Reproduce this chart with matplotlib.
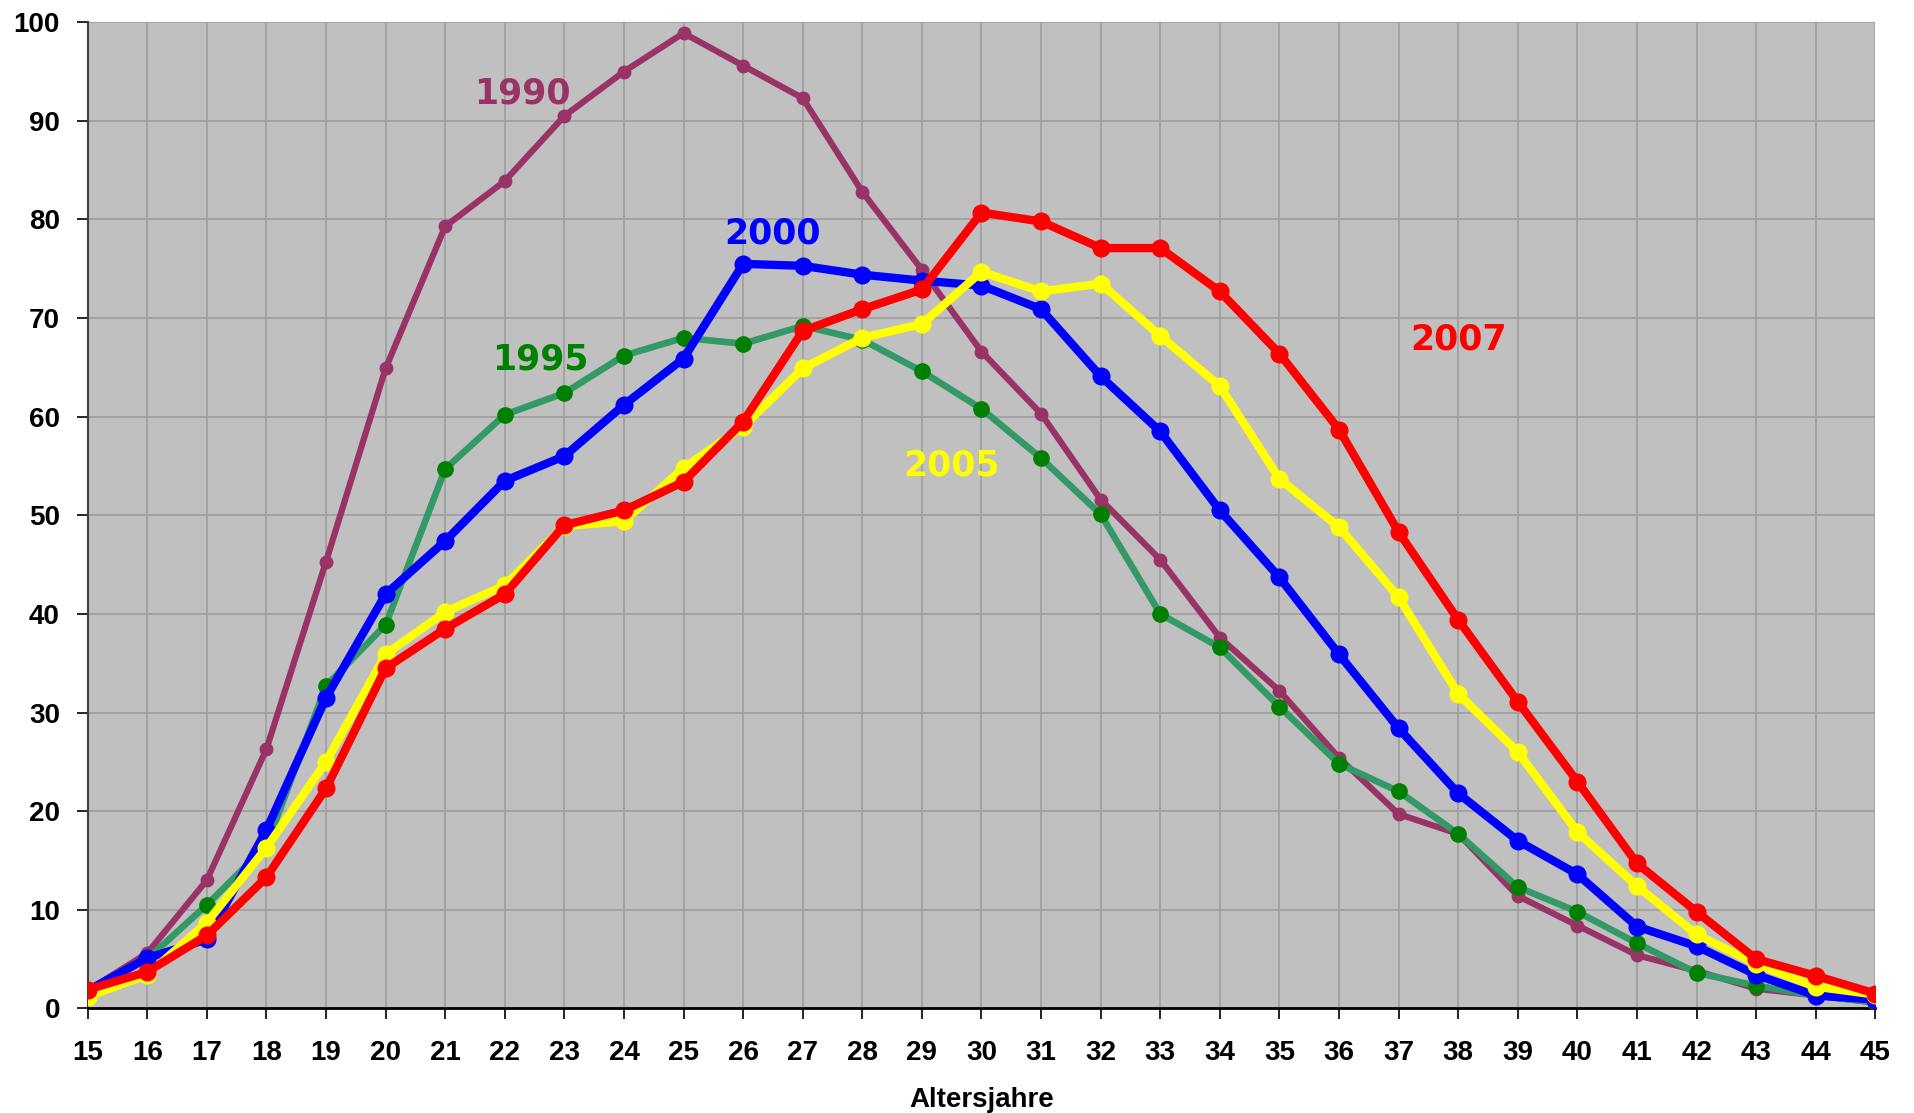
import matplotlib
matplotlib.use("Agg")
import matplotlib.pyplot as plt

ages = list(range(15, 46))

y1990 = [1.8, 5.6, 13.0, 26.3, 45.3, 64.9, 79.3, 83.9, 90.5, 95.0, 98.9, 95.6, 92.3, 82.8, 74.9,
         66.6, 60.3, 51.6, 45.5, 37.6, 32.2, 25.4, 19.7, 17.7, 11.4, 8.4, 5.4, 3.8, 2.0, 1.3, 0.6]
y1995 = [1.8, 5.0, 10.5, 16.5, 32.7, 38.9, 54.7, 60.2, 62.4, 66.2, 68.0, 67.4, 69.2, 67.8, 64.6,
         60.8, 55.8, 50.1, 40.0, 36.6, 30.6, 24.8, 22.0, 17.7, 12.3, 9.8, 6.6, 3.6, 2.3, 1.3, 0.6]
y2000 = [1.8, 5.1, 7.0, 18.1, 31.5, 42.0, 47.4, 53.5, 56.0, 61.2, 65.9, 75.5, 75.3, 74.4, 73.8,
         73.3, 70.9, 64.1, 58.5, 50.5, 43.7, 35.9, 28.4, 21.8, 17.0, 13.6, 8.3, 6.3, 3.4, 1.3, 0.9]
y2005 = [1.2, 3.4, 8.7, 16.3, 25.0, 35.9, 40.2, 42.9, 48.9, 49.4, 54.8, 59.0, 64.9, 68.0, 69.4,
         74.7, 72.7, 73.5, 68.2, 63.1, 53.7, 48.8, 41.7, 31.9, 26.0, 17.9, 12.4, 7.5, 4.5, 2.2, 1.4]
y2007 = [1.9, 3.7, 7.4, 13.3, 22.3, 34.5, 38.5, 42.0, 49.0, 50.5, 53.4, 59.5, 68.7, 70.9, 72.9,
         80.7, 79.8, 77.1, 77.1, 72.7, 66.4, 58.7, 48.3, 39.4, 31.1, 23.0, 14.7, 9.8, 5.0, 3.3, 1.5]

# label text, x, y, colour
labels = [
    ("1990", 22.3, 92.8, "#993366"),
    ("1995", 22.6, 65.8, "#008000"),
    ("2000", 26.5, 78.6, "#0000FF"),
    ("2005", 29.5, 55.1, "#FFFF00"),
    ("2007", 38.0, 67.8, "#FF0000"),
]

plt.rcParams["font.family"] = ["Liberation Sans", "DejaVu Sans"]

fig = plt.figure(figsize=(19.14, 11.13), dpi=100)
ax = fig.add_axes([0.0458, 0.094, 0.934, 0.886])
ax.set_facecolor("#C0C0C0")

ax.plot(ages, y1990, color="#993366", lw=4.5, marker="o", ms=9, zorder=3)
ax.plot(ages, y1995, color="#339966", lw=4.8, marker="o", ms=11,
        markerfacecolor="#008000", markeredgecolor="#008000", zorder=4)
ax.plot(ages, y2000, color="#0000FF", lw=6, marker="o", ms=12, zorder=5)
ax.plot(ages, y2005, color="#FFFF00", lw=6, marker="o", ms=12, zorder=6)
ax.plot(ages, y2007, color="#FF0000", lw=6, marker="o", ms=12, zorder=7)

for txt, x, y, c in labels:
    ax.text(x, y, txt, color=c, fontsize=25, fontweight="bold",
            family=["DejaVu Sans"], ha="center", va="center", zorder=8)

ax.set_xlim(15, 45)
ax.set_ylim(0, 100)
ax.set_xticks(ages)
ax.set_yticks(range(0, 101, 10))
ax.grid(True, color="#A0A0A0", lw=1.3, zorder=0)
ax.set_axisbelow(True)

for s in ["top", "right"]:
    ax.spines[s].set_visible(False)
ax.spines["left"].set_color("#404040")
ax.spines["left"].set_linewidth(1.5)
ax.spines["bottom"].set_color("black")
ax.spines["bottom"].set_linewidth(2)

ax.tick_params(axis="x", length=8, width=1.2, pad=15, labelsize=20)
ax.tick_params(axis="y", length=8, width=1.2, pad=12, labelsize=20)
for lab in ax.get_xticklabels() + ax.get_yticklabels():
    lab.set_fontweight("bold")

ax.set_xlabel("Altersjahre", fontsize=20, fontweight="bold", labelpad=15)

fig.savefig("out.png", dpi=100)
